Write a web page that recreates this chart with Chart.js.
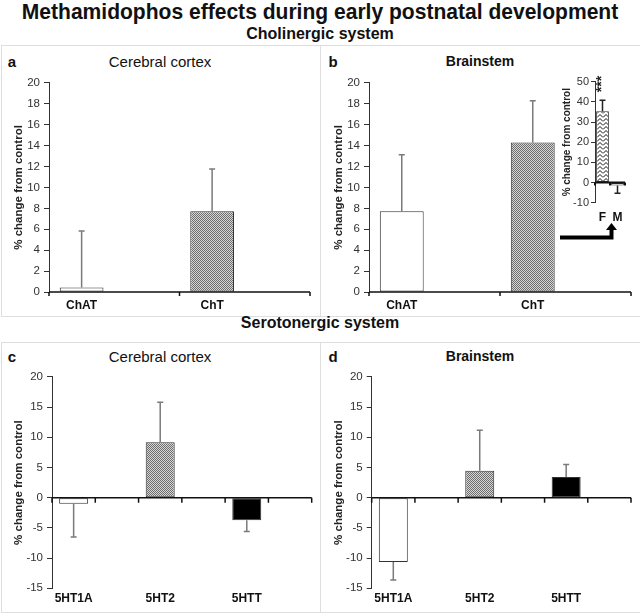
<!DOCTYPE html>
<html>
<head>
<meta charset="utf-8">
<script src="https://cdn.jsdelivr.net/npm/chart.js@4"></script>
<style>
  body { margin: 0; width: 640px; height: 614px; position: relative; background: #fff; overflow: hidden;
         font-family: 'Liberation Sans', Arial, sans-serif; color: #111; }
  .t { position: absolute; white-space: nowrap; transform: translate(-50%, -50%); line-height: 1; }
  .box { position: absolute; border: 1px solid #dedede; box-sizing: border-box; }
  canvas { position: absolute; }
</style>
</head>
<body>
<div class="box" style="left:1px;top:45px;width:320px;height:272px"></div>
<div class="box" style="left:320px;top:45px;width:322px;height:272px"></div>
<div class="box" style="left:1px;top:342px;width:320px;height:271px"></div>
<div class="box" style="left:320px;top:342px;width:322px;height:271px"></div>

<div class="t" id="mainTitle" style="left:320px;top:12px;font-size:22px;font-weight:bold">Methamidophos effects during early postnatal development</div>
<div class="t" style="left:320px;top:34px;font-size:16px;font-weight:bold">Cholinergic system</div>
<div class="t" style="left:320px;top:323px;font-size:16px;font-weight:bold">Serotonergic system</div>

<div class="t" style="left:12px;top:61px;font-size:15px;font-weight:bold">a</div>
<div class="t" style="left:160px;top:61px;font-size:15px">Cerebral cortex</div>
<div class="t" style="left:333px;top:61px;font-size:15px;font-weight:bold">b</div>
<div class="t" style="left:480px;top:61px;font-size:14px;font-weight:bold">Brainstem</div>
<div class="t" style="left:12px;top:356px;font-size:15px;font-weight:bold">c</div>
<div class="t" style="left:160px;top:356px;font-size:15px">Cerebral cortex</div>
<div class="t" style="left:333px;top:356px;font-size:15px;font-weight:bold">d</div>
<div class="t" style="left:480px;top:356px;font-size:14px;font-weight:bold">Brainstem</div>

<canvas id="chartA" width="318" height="242" style="left:0;top:72px"></canvas>
<canvas id="chartB" width="318" height="242" style="left:320px;top:72px"></canvas>
<canvas id="chartC" width="318" height="244" style="left:0;top:366px"></canvas>
<canvas id="chartD" width="318" height="244" style="left:320px;top:366px"></canvas>
<canvas id="chartInset" width="80" height="158" style="left:555px;top:70px"></canvas>

<svg width="640" height="614" style="position:absolute;left:0;top:0;pointer-events:none">
  <polyline points="560,237.5 611.5,237.5 611.5,229" fill="none" stroke="#000" stroke-width="4"/>
  <polygon points="606,230 617,230 611.5,223" fill="#000"/>
</svg>

<script>
// categories
const cholCategories = ['ChAT', 'ChT'];
const seroCategories = ['5HT1A', '5HT2', '5HTT'];
const insetCategories = ['F', 'M'];

// % change from control (means) and error bar lengths
const cortexChol = [0.44, 7.72];
const cortexCholErr = [5.4, 4.05];
const brainChol = [7.72, 14.3];
const brainCholErr = [5.4, 4.0];

const cortexSero = [-1.0, 9.2, -3.75];
const cortexSeroErr = [5.5, 6.6, 1.85];
const brainSero = [-10.66, 4.47, 3.43];
const brainSeroErr = [2.95, 6.7, 2.05];

// inset: ChT in brainstem by sex
const insetValues = [35.4, -1.5];
const insetErr = [5.4, 3.8];
const insetStars = ['***', ''];

// patterns
function checker() {
    const c = document.createElement('canvas');
    c.width = 2; c.height = 2;
    const g = c.getContext('2d');
    g.fillStyle = '#d6d6d6'; g.fillRect(0, 0, 2, 2);
    g.fillStyle = '#6e6e6e'; g.fillRect(0, 0, 1, 1); g.fillRect(1, 1, 1, 1);
    return g.createPattern(c, 'repeat');
}
function zigzag() {
    const c = document.createElement('canvas');
    c.width = 6; c.height = 4;
    const g = c.getContext('2d');
    g.fillStyle = '#fff'; g.fillRect(0, 0, 6, 4);
    g.strokeStyle = '#111'; g.lineWidth = 1;
    g.beginPath(); g.moveTo(0, 3.5); g.lineTo(3, 0.5); g.lineTo(6, 3.5); g.stroke();
    return g.createPattern(c, 'repeat');
}
const grey = checker();

// zero line, tick marks and one-sided error bars
const errorBars = {
    id: 'errorBars',
    afterDatasetsDraw(chart, args, opts) {
        const { ctx, chartArea } = chart;
        const x = chart.scales.x, y = chart.scales.y;
        const y0 = y.getPixelForValue(0);
        const n = chart.data.labels.length;
        const half = (x.getPixelForValue(1) - x.getPixelForValue(0)) / 2;
        ctx.save();
        // zero axis
        ctx.strokeStyle = opts.axisColor;
        ctx.lineWidth = opts.axisWidth;
        ctx.beginPath();
        ctx.moveTo(chartArea.left, y0); ctx.lineTo(chartArea.right, y0);
        for (let i = 0; i <= n; i += opts.tickEvery) {
            const px = x.getPixelForValue(0) - half + i * 2 * half;
            ctx.moveTo(px, y0); ctx.lineTo(px, y0 + opts.tickLen);
        }
        ctx.stroke();
        // error bars
        const meta = chart.getDatasetMeta(0);
        const data = chart.data.datasets[0].data;
        ctx.strokeStyle = opts.color;
        ctx.lineWidth = 1.5;
        opts.errors.forEach((e, i) => {
            const v = data[i];
            if (v === null || e === null) return;
            const px = meta.data[i].x;
            const tip = v >= 0 ? v + e : v - e;
            const py1 = y.getPixelForValue(v), py2 = y.getPixelForValue(tip);
            ctx.beginPath();
            ctx.moveTo(px, py1); ctx.lineTo(px, py2);
            ctx.moveTo(px - opts.cap, py2); ctx.lineTo(px + opts.cap, py2);
            ctx.stroke();
            if (opts.stars && opts.stars[i]) {
                ctx.save();
                ctx.fillStyle = '#222';
                ctx.font = 'bold 14px "Liberation Sans", Arial';
                ctx.translate(px, py2 - 8);
                ctx.rotate(-Math.PI / 2);
                ctx.textAlign = 'left';
                ctx.textBaseline = 'middle';
                ctx.fillText(opts.stars[i], 0, 0);
                ctx.restore();
            }
        });
        ctx.restore();
    }
};

// each category takes two slots, the bar sits in the first one
function spread(arr, filler) {
    const out = [];
    arr.forEach(v => { out.push(v); out.push(filler); });
    return out;
}

function panel(id, cats, vals, errs, fills, cfg) {
    const canvas = document.getElementById(id);
    const left = parseFloat(canvas.style.left), top = parseFloat(canvas.style.top);
    const slots = cfg.spread ? spread(cats, '') : cats;
    const data = cfg.spread ? spread(vals, null) : vals;
    const bg = cfg.spread ? spread(fills, null) : fills;
    const e = cfg.spread ? spread(errs, null) : errs;
    return new Chart(canvas, {
        type: 'bar',
        data: {
            labels: slots,
            datasets: [{
                data: data,
                backgroundColor: bg,
                borderColor: '#333',
                borderWidth: 1,
                borderSkipped: false,
                barPercentage: cfg.barPct,
                categoryPercentage: 1
            }]
        },
        options: {
            responsive: false,
            animation: false,
            events: [],
            layout: { padding: { top: cfg.area.top - top, right: left + canvas.width - cfg.area.right, left: 0, bottom: 0 } },
            plugins: {
                legend: { display: false },
                tooltip: { enabled: false },
                errorBars: {
                    errors: e, color: cfg.errColor, cap: cfg.cap, tickEvery: cfg.tickEvery,
                    tickLen: cfg.tickLen, axisColor: '#111', axisWidth: cfg.axisWidth, stars: cfg.stars
                }
            },
            scales: {
                x: {
                    grid: { display: false, drawTicks: false },
                    border: { display: false },
                    ticks: {
                        color: '#111', padding: cfg.xPad, autoSkip: false, maxRotation: 0,
                        font: { family: 'Liberation Sans', size: cfg.xFont, weight: 'bold' }
                    },
                    afterFit: s => { s.height = top + canvas.height - cfg.area.bottom; }
                },
                y: {
                    min: cfg.yMin, max: cfg.yMax,
                    grid: { drawOnChartArea: false, drawTicks: true, tickLength: cfg.yTickLen, color: '#333' },
                    border: { display: true, color: '#333', width: 1 },
                    ticks: {
                        stepSize: cfg.step, color: '#333', padding: cfg.yPad,
                        font: { family: 'Liberation Sans', size: cfg.yFont }
                    },
                    title: {
                        display: true, text: '% change from control', color: '#222',
                        padding: { top: cfg.titlePad, bottom: 0 },
                        font: { family: 'Liberation Sans', size: cfg.titleFont, weight: 'bold', lineHeight: 1.2 }
                    },
                    afterFit: s => { s.width = cfg.area.left - left; }
                }
            }
        },
        plugins: [errorBars]
    });
}

const cholBase = {
    spread: true, barPct: 0.67, yMin: 0, yMax: 20, step: 2, tickEvery: 2, tickLen: 4,
    errColor: '#7a7a7a', cap: 3, axisWidth: 1.5, xPad: 6, xFont: 12, yFont: 11.5,
    yTickLen: 5, yPad: 4, titlePad: 11.5, titleFont: 11.5
};
const seroBase = Object.assign({}, cholBase, { yMin: -15, yMax: 20, step: 5, tickEvery: 1, tickLen: 5, xPad: 3 });

panel('chartA', cholCategories, cortexChol, cortexCholErr, ['#fff', grey],
    Object.assign({}, cholBase, { area: { left: 49, right: 310, top: 81.7, bottom: 292 } }));
panel('chartB', cholCategories, brainChol, brainCholErr, ['#fff', grey],
    Object.assign({}, cholBase, { area: { left: 369, right: 631, top: 81.7, bottom: 292 } }));
panel('chartC', seroCategories, cortexSero, cortexSeroErr, ['#fff', grey, '#000'],
    Object.assign({}, seroBase, { area: { left: 52, right: 311.7, top: 376.7, bottom: 588.3 } }));
panel('chartD', seroCategories, brainSero, brainSeroErr, ['#fff', grey, '#000'],
    Object.assign({}, seroBase, { area: { left: 371.7, right: 631, top: 376.7, bottom: 588.3 } }));
panel('chartInset', insetCategories, insetValues, insetErr, [zigzag(), '#fff'], {
    spread: false, barPct: 0.85, yMin: -10, yMax: 50, step: 10, tickEvery: 1, tickLen: 3,
    errColor: '#222', cap: 3, axisWidth: 2, xPad: 8, xFont: 12, yFont: 11, yTickLen: 4, yPad: 2,
    titlePad: 6, titleFont: 10, stars: insetStars,
    area: { left: 595, right: 625, top: 81.7, bottom: 202.7 }
});

// squeeze the main title to the width it has in the figure
const mt = document.getElementById('mainTitle');
mt.style.transform = 'translate(-50%, -50%) scaleX(' + (596 / mt.offsetWidth) + ')';
</script>
</body>
</html>
